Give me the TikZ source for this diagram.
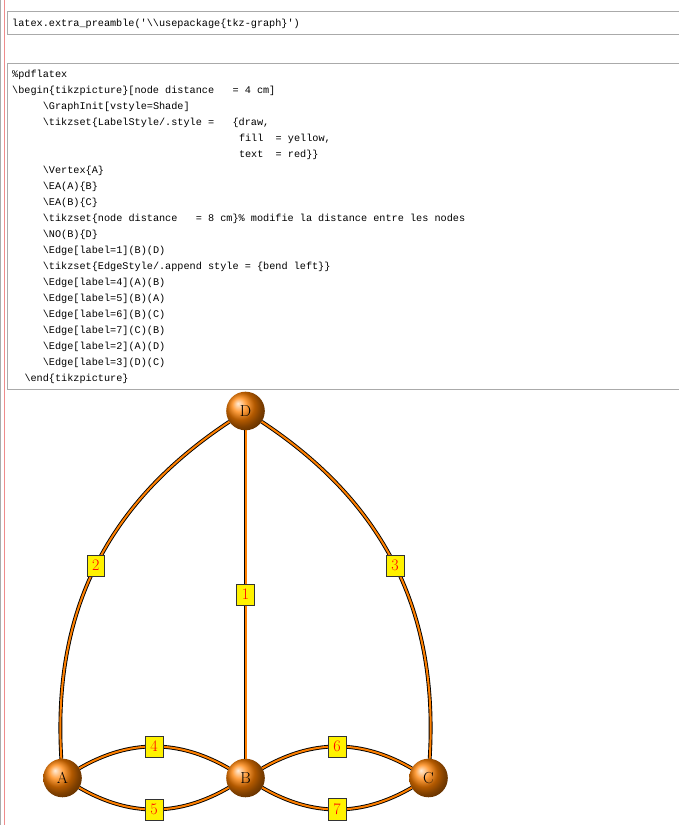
\documentclass[tikz,border=0pt]{standalone}
\usepackage{fontspec}
\setmonofont{Liberation Mono}
\newcommand\bs{\textbackslash}
\definecolor{cellgray}{RGB}{170,170,170}
\definecolor{marginpink}{RGB}{238,140,140}
\begin{document}
\begin{tikzpicture}[x=1pt,y=1pt,
  code/.style={anchor=base west,inner sep=0pt,font=\ttfamily\fontsize{10.2}{16}\selectfont},
  cell/.style={draw=cellgray,line width=0.9pt},
  vert/.style={circle,ball color=orange,minimum size=38.6pt,inner sep=0pt,outer sep=0pt,font=\fontsize{16}{19}\selectfont,text=black},
  edge/.style={draw=black,line width=0.9pt,double=orange,double distance=2pt},
  lab/.style={draw=black!80,line width=0.7pt,fill=yellow,text=red,inner sep=5.2pt,font=\fontsize{16}{19}\selectfont}]
\useasboundingbox (0,0) rectangle (679,825);
\fill[white] (0,0) rectangle (679,825);
% margins
\draw[cellgray,line width=1pt] (0.5,0) -- (0.5,825);
\draw[marginpink,line width=0.9pt] (4.2,0) -- (4.2,825);
% cells
\draw[cell] (680,814) -- (7,814) -- (7,791) -- (680,791);
\draw[cell] (680,762) -- (7,762) -- (7,436) -- (680,436);
\node[code] (c0) at (12,798.5) {latex.extra\_preamble('\bs\bs usepackage\{tkz-graph\}')};
% code lines
\node[code] (l0) at (12,747) {\%pdflatex};
\node[code] (l1) at (12,731) {\bs begin\{tikzpicture\}[node distance\ \ \ = 4 cm]};
\node[code] (l2) at (42.65,715) {\bs GraphInit[vstyle=Shade]};
\node[code] (l3) at (42.65,699) {\bs tikzset\{LabelStyle/.style =\ \ \ \{draw,};
\node[code] (l4) at (238.8,683) {fill\ \ = yellow,};
\node[code] (l5) at (238.8,667) {text\ \ = red\}\}};
\node[code] (l6) at (42.65,651) {\bs Vertex\{A\}};
\node[code] (l7) at (42.65,635) {\bs EA(A)\{B\}};
\node[code] (l8) at (42.65,619) {\bs EA(B)\{C\}};
\node[code] (l9) at (42.65,603) {\bs tikzset\{node distance\ \ \ = 8 cm\}\% modifie la distance entre les nodes};
\node[code] (l10) at (42.65,587) {\bs NO(B)\{D\}};
\node[code] (l11) at (42.65,571) {\bs Edge[label=1](B)(D)};
\node[code] (l12) at (42.65,555) {\bs tikzset\{EdgeStyle/.append style = \{bend left\}\}};
\node[code] (l13) at (42.65,539) {\bs Edge[label=4](A)(B)};
\node[code] (l14) at (42.65,523) {\bs Edge[label=5](B)(A)};
\node[code] (l15) at (42.65,507) {\bs Edge[label=6](B)(C)};
\node[code] (l16) at (42.65,491) {\bs Edge[label=7](C)(B)};
\node[code] (l17) at (42.65,475) {\bs Edge[label=2](A)(D)};
\node[code] (l18) at (42.65,459) {\bs Edge[label=3](D)(C)};
\node[code] (l19) at (24.3,443) {\bs end\{tikzpicture\}};
% graph
\node[vert] (A) at (62.5,47) {A};
\node[vert] (B) at (245.5,47) {B};
\node[vert] (C) at (428.5,47) {C};
\node[vert] (D) at (245.5,414) {D};
\draw[edge] (B) -- node[lab] (e1) {1} (D);
\draw[edge] (A) to[bend left] node[lab] (e4) {4} (B);
\draw[edge] (B) to[bend left] node[lab] (e5) {5} (A);
\draw[edge] (B) to[bend left] node[lab] (e6) {6} (C);
\draw[edge] (C) to[bend left] node[lab] (e7) {7} (B);
\draw[edge] (A) to[bend left] node[lab] (e2) {2} (D);
\draw[edge] (D) to[bend left] node[lab] (e3) {3} (C);
\end{tikzpicture}
\end{document}
